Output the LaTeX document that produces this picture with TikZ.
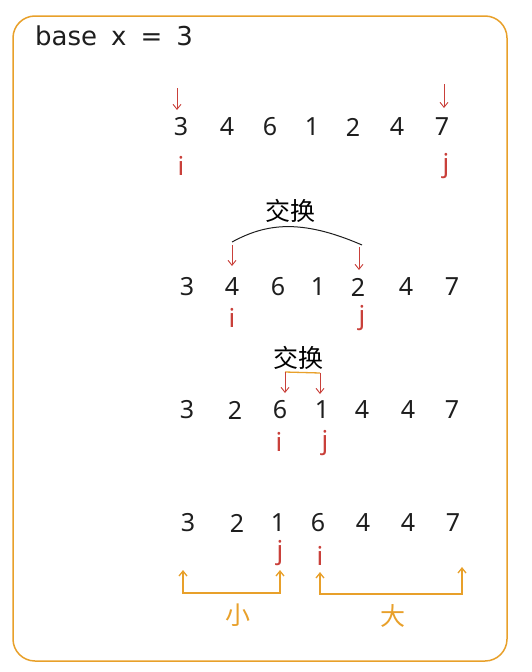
\documentclass[tikz,border=0pt]{standalone}
\usepackage{fontspec}
\setmainfont{Noto Sans}
\newfontfamily\titlefont{DejaVu Sans}
\newfontfamily\cjk{Noto Sans CJK SC}
\usepackage{tikz}
\usetikzlibrary{positioning}
\usetikzlibrary{arrows.meta}
\usepackage{xcolor}
\definecolor{frameorange}{HTML}{E8A02A}
\definecolor{ptrred}{HTML}{C9403A}
\definecolor{digitgray}{HTML}{1E1E1E}

\tikzset{
  num/.style={inner sep=0pt, text=digitgray, font=\fontsize{25}{25}\selectfont},
  ptr/.style={inner sep=0pt, text=ptrred, font=\fontsize{26}{26}\selectfont},
  ptrarrow/.style={-{Straight Barb[length=5pt,width=8pt]}, draw=ptrred, line width=0.9pt},
  rangearrow/.style={{Straight Barb[length=5pt,width=8pt]}-{Straight Barb[length=5pt,width=8pt]}, draw=frameorange, line width=1.3pt},
  cnlabel/.style={inner sep=0pt, font=\cjk\fontsize{25}{25}\selectfont}
}

\begin{document}
\begin{tikzpicture}[x=1pt, y=-1pt]
       \useasboundingbox (0,0) rectangle (532,672);
       \draw[frameorange, line width=1.5pt, rounded corners=22pt] (13,16) rectangle (507,661);
       \node[anchor=west, inner sep=0pt, text=digitgray, font=\titlefont\fontsize{26}{26}\selectfont] (title) at (35,36) {\spaceskip=14pt base x = 3};

       % row 1
       \node[num] (ra1) at (181,127) {3};
       \node[num] (ra2) at (227,127) {4};
       \node[num] (ra3) at (270,127) {6};
       \node[num] (ra4) at (312,127) {1};
       \node[num] (ra5) at (353,127) {2};
       \node[num] (ra6) at (397,127) {4};
       \node[num] (ra7) at (442,127) {7};
       \node[ptr] (rai) at (181,166) {i};
       \node[ptr] (raj) at (446,166) {j};
       \coordinate (raitop) at (177,88);
       \coordinate (rajtop) at (444,84);
       \draw[ptrarrow] (raitop) -- (177,110);
       \draw[ptrarrow] (rajtop) -- (444,108);

       % row 2
       \node[cnlabel] (swapa) at (290,211) {交换};
       \node[num] (rb1) at (187,287) {3};
       \node[num] (rb2) at (232,287) {4};
       \node[num] (rb3) at (278,287) {6};
       \node[num] (rb4) at (318,287) {1};
       \node[num] (rb5) at (358,287) {2};
       \node[num] (rb6) at (406,287) {4};
       \node[num] (rb7) at (452,287) {7};
       \node[ptr] (rbi) at (232,318) {i};
       \node[ptr] (rbj) at (362,318) {j};
       \coordinate (rbl) at (232,242);
       \coordinate (rbr) at (362,245);
       \draw[digitgray, line width=1pt] (rbl) .. controls (265,224) and (300,218) .. (rbr);
       \draw[ptrarrow] (rbl) ++(0,3) -- (232,266);
       \draw[ptrarrow] (rbr) ++(-3,2) -- (359,270);

       % row 3
       \node[cnlabel] (swapb) at (298,358) {交换};
       \node[num] (rc1) at (187,410) {3};
       \node[num] (rc2) at (235,410) {2};
       \node[num] (rc3) at (280,410) {6};
       \node[num] (rc4) at (322,410) {1};
       \node[num] (rc5) at (362,410) {4};
       \node[num] (rc6) at (408,410) {4};
       \node[num] (rc7) at (452,410) {7};
       \node[ptr] (rci) at (279,442) {i};
       \node[ptr] (rcj) at (325,443) {j};
       \coordinate (rcl) at (285,372);
       \coordinate (rcr) at (320,373);
       \draw[frameorange, line width=1.3pt] (rcl) -- (rcr);
       \draw[ptrarrow] (rcl) -- (285,393);
       \draw[ptrarrow] (rcr) -- (320,394);

       % row 4
       \node[num] (rd1) at (188,523) {3};
       \node[num] (rd2) at (237,523) {2};
       \node[num] (rd3) at (278,523) {1};
       \node[num] (rd4) at (318,523) {6};
       \node[num] (rd5) at (363,523) {4};
       \node[num] (rd6) at (408,523) {4};
       \node[num] (rd7) at (453,523) {7};
       \node[ptr] (rdj) at (280,553) {j};
       \node[ptr] (rdi) at (320,556) {i};
       \draw[rangearrow] (183,570) -- (183,593) -- (280,593) -- (280,570);
       \draw[rangearrow] (320,572) -- (320,594) -- (462,594) -- (462,567);
       \node[cnlabel, text=frameorange] (small) at (238,615) {小};
       \node[cnlabel, text=frameorange] (big) at (393,616) {大};
\end{tikzpicture}
\end{document}
